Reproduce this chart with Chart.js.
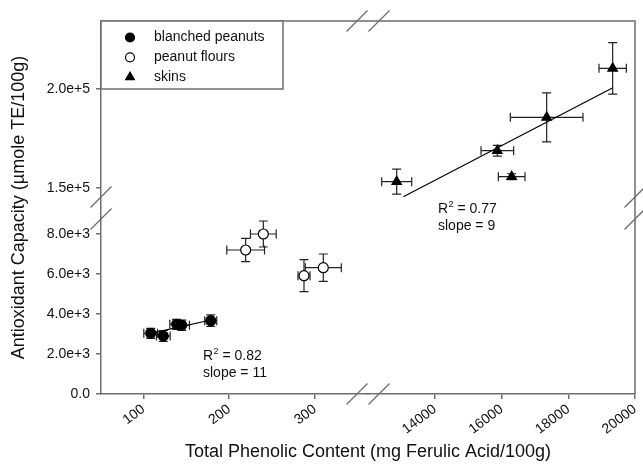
<!DOCTYPE html>
<html>
<head>
<meta charset="utf-8">
<script src="https://cdn.jsdelivr.net/npm/chart.js@4/dist/chart.umd.min.js"></script>
<style>
  html, body { margin: 0; padding: 0; background: #fff; }
  #wrap { width: 643px; height: 465px; }
</style>
</head>
<body>
<div id="wrap"><canvas id="chart" width="643" height="465"></canvas></div>
<script>
/* ── data ─────────────────────────────────────────────────── */
const LEGEND_LABELS = ['blanched peanuts', 'peanut flours', 'skins'];

const blanchedX    = [108.6, 123.3, 138.9, 144.8, 178.6];
const blanchedY    = [3035, 2900, 3485, 3435, 3665];
const blanchedXErr = [8, 8, 8, 9, 7];
const blanchedYErr = [250, 275, 250, 260, 290];

const floursX    = [219.3, 239.9, 287.3, 309.8];
const floursY    = [7200, 8000, 5915, 6315];
const floursXErr = [22, 15, 7, 21];
const floursYErr = [585, 650, 800, 685];

const skinsX    = [12851, 15870, 16300, 17350, 19330];
const skinsY    = [153040, 168744, 155570, 185660, 210490];
const skinsXErr = [450, 490, 400, 1090, 410];
const skinsYErr = [6330, 2700, 1500, 12400, 13090];

// regression lines (end points)
const blanchedFitX = [108.6, 178.6];
const blanchedFitY = [3030, 3700];
const skinsFitX = [13050, 19320];
const skinsFitY = [145440, 200500];

// axis ticks, both axes are broken in two segments
const xLoTicks = [100, 200, 300];
const xHiTicks = [14000, 16000, 18000, 20000];
const yLoTicks = [0, 2000, 4000, 6000, 8000];
const yHiTicks = [150000, 200000];

const ANNOTATIONS = [
  { r2: '0.82', slope: 'slope = 11', dx: 102, dy: 339 },
  { r2: '0.77', slope: 'slope = 9',  dx: 337, dy: 192 }
];

const FONT = "'Liberation Sans', Arial, sans-serif";
const AXIS = '#6e6e6e';
const INK = '#111';

const pts = (xs, ys) => xs.map((x, i) => ({ x, y: ys[i] }));

/* ── plugins ─────────────────────────────────────────────── */
const errorBars = {
  id: 'errorBars',
  beforeDatasetsDraw(chart) {
    const ctx = chart.ctx;
    ctx.save();
    ctx.strokeStyle = '#222';
    ctx.lineWidth = 1.2;
    const cap = 4.5;
    chart.data.datasets.forEach(ds => {
      if (!ds.errX) return;
      const xs = chart.scales[ds.xAxisID], ys = chart.scales[ds.yAxisID];
      ds.data.forEach((p, j) => {
        const px = xs.getPixelForValue(p.x), py = ys.getPixelForValue(p.y);
        const xa = xs.getPixelForValue(p.x - ds.errX[j]), xb = xs.getPixelForValue(p.x + ds.errX[j]);
        const ya = ys.getPixelForValue(p.y - ds.errY[j]), yb = ys.getPixelForValue(p.y + ds.errY[j]);
        ctx.beginPath();
        ctx.moveTo(xa, py); ctx.lineTo(xb, py);
        ctx.moveTo(xa, py - cap); ctx.lineTo(xa, py + cap);
        ctx.moveTo(xb, py - cap); ctx.lineTo(xb, py + cap);
        ctx.moveTo(px, ya); ctx.lineTo(px, yb);
        ctx.moveTo(px - cap, ya); ctx.lineTo(px + cap, ya);
        ctx.moveTo(px - cap, yb); ctx.lineTo(px + cap, yb);
        ctx.stroke();
      });
    });
    ctx.restore();
  }
};

const frame = {
  id: 'frame',
  afterDraw(chart) {
    const { ctx, chartArea: a } = chart;
    const bx = chart.scales.xLo.right;   // x break
    const by = chart.scales.yLo.top;     // y break
    ctx.save();
    ctx.strokeStyle = AXIS;
    ctx.lineWidth = 1.5;
    ctx.beginPath();
    ctx.moveTo(a.left, a.top); ctx.lineTo(a.right, a.top); ctx.lineTo(a.right, a.bottom);
    ctx.stroke();

    // break slashes
    ctx.lineWidth = 1.3;
    const slash = (cx, cy) => {
      ctx.beginPath();
      ctx.moveTo(cx - 10.5, cy + 10.5);
      ctx.lineTo(cx + 10.5, cy - 10.5);
      ctx.stroke();
    };
    [-11, 11].forEach(d => {
      slash(bx + d, a.bottom); slash(bx + d, a.top);
      slash(a.left, by + d);   slash(a.right, by + d);
    });

    // annotations
    ctx.fillStyle = INK;
    ctx.textBaseline = 'alphabetic';
    ANNOTATIONS.forEach(t => {
      const x = a.left + t.dx, y = a.top + t.dy;
      ctx.font = '14px ' + FONT;
      ctx.fillText('R', x, y);
      let w = ctx.measureText('R').width;
      ctx.font = '9px ' + FONT;
      ctx.fillText('2', x + w + 0.5, y - 6);
      w += ctx.measureText('2').width + 0.5;
      ctx.font = '14px ' + FONT;
      ctx.fillText(' = ' + t.r2, x + w, y);
      ctx.fillText(t.slope, x, y + 17);
    });

    // legend box
    const lw = 182, lh = 68;
    ctx.fillStyle = '#fff';
    ctx.fillRect(a.left, a.top, lw, lh);
    ctx.strokeStyle = AXIS;
    ctx.lineWidth = 1.5;
    ctx.strokeRect(a.left, a.top, lw, lh);
    ctx.font = '14px ' + FONT;
    ctx.textBaseline = 'middle';
    [0, 1, 2].forEach(i => {
      const ds = chart.data.datasets[i];
      const y = a.top + 16.5 + i * 19.8;
      ctx.fillStyle = ds.backgroundColor;
      ctx.strokeStyle = ds.borderColor;
      ctx.lineWidth = ds.borderWidth;
      Chart.helpers.drawPoint(ctx, { pointStyle: ds.pointStyle, radius: ds.pointRadius - 0.5, borderWidth: ds.borderWidth, rotation: 0 }, a.left + 29, y);
      ctx.fillStyle = INK;
      ctx.fillText(LEGEND_LABELS[i], a.left + 53, y);
    });

    // axis titles
    ctx.fillStyle = INK;
    ctx.font = '18px ' + FONT;
    ctx.textAlign = 'center';
    ctx.textBaseline = 'middle';
    ctx.fillText('Total Phenolic Content (mg Ferulic Acid/100g)', (a.left + a.right) / 2, 452);
    ctx.translate(19, (a.top + a.bottom) / 2);
    ctx.rotate(-Math.PI / 2);
    ctx.fillText('Antioxidant Capacity (\u00B5mole TE/100g)', 0, 0);
    ctx.restore();
  }
};

/* ── scales ──────────────────────────────────────────────── */
const fmtY = v => v === 0 ? '0.0' : v.toExponential(1);
const fmtX = v => String(v);

function axis(extra, ticks, isX) {
  return Object.assign({
    type: 'linear',
    afterBuildTicks: s => { s.ticks = ticks.map(v => ({ value: v })); },
    afterFit: s => {
      if (isX) s.height = 71; else s.width = 101;
      s.paddingLeft = s.paddingRight = s.paddingTop = s.paddingBottom = 0;
    },
    border: { display: true, color: AXIS, width: 1.5 },
    grid: { display: true, drawOnChartArea: false, drawTicks: true, tickLength: 5, color: AXIS, lineWidth: 1.5 },
    ticks: isX
      ? { autoSkip: false, minRotation: 37, maxRotation: 37, padding: 2, color: INK, font: { family: FONT, size: 14 }, callback: fmtX }
      : { padding: 6, color: INK, font: { family: FONT, size: 14 }, callback: fmtY }
  }, extra);
}

const scatterDs = (label, xs, ys, ex, ey, style, fill, xID, yID, r) => ({
  label, data: pts(xs, ys), errX: ex, errY: ey,
  xAxisID: xID, yAxisID: yID,
  pointStyle: style, pointRadius: r, backgroundColor: fill, borderColor: '#000', borderWidth: 1.2,
  showLine: false, order: 0
});

const fitDs = (xs, ys, xID, yID) => ({
  label: '', data: pts(xs, ys), xAxisID: xID, yAxisID: yID,
  showLine: true, pointRadius: 0, borderColor: '#000', borderWidth: 1.2, order: 1
});

new Chart(document.getElementById('chart'), {
  type: 'scatter',
  data: {
    datasets: [
      scatterDs(LEGEND_LABELS[0], blanchedX, blanchedY, blanchedXErr, blanchedYErr, 'circle', '#000', 'xLo', 'yLo', 5),
      scatterDs(LEGEND_LABELS[1], floursX, floursY, floursXErr, floursYErr, 'circle', '#fff', 'xLo', 'yLo', 5),
      scatterDs(LEGEND_LABELS[2], skinsX, skinsY, skinsXErr, skinsYErr, 'triangle', '#000', 'xHi', 'yHi', 5.5),
      fitDs(blanchedFitX, blanchedFitY, 'xLo', 'yLo'),
      fitDs(skinsFitX, skinsFitY, 'xHi', 'yHi')
    ]
  },
  options: {
    responsive: false,
    animation: false,
    layout: { padding: { top: 21, right: 8, left: 0, bottom: 0 } },
    plugins: { legend: { display: false }, tooltip: { enabled: false } },
    scales: {
      xLo: axis({ position: 'bottom', stack: 'x', stackWeight: 267, weight: 0, min: 50.7, max: 361.9 }, xLoTicks, true),
      xHi: axis({ position: 'bottom', stack: 'x', stackWeight: 267, weight: 1, min: 11990, max: 20000 }, xHiTicks, true),
      yLo: axis({ position: 'left', stack: 'y', stackWeight: 186, weight: 0, min: 0, max: 9300 }, yLoTicks, false),
      yHi: axis({ position: 'left', stack: 'y', stackWeight: 187, weight: 1, min: 139700, max: 234500 }, yHiTicks, false)
    }
  },
  plugins: [errorBars, frame]
});
</script>
</body>
</html>
